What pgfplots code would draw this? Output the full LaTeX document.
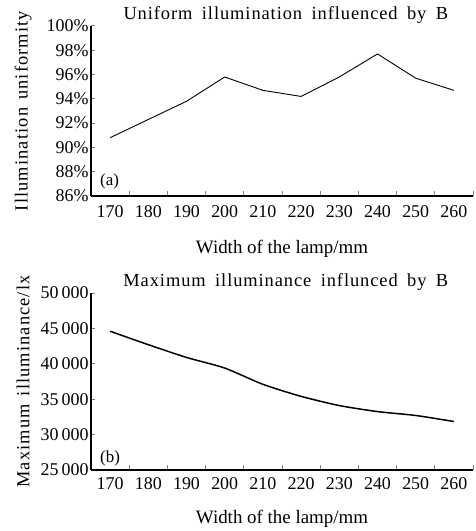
\documentclass[border=0pt]{standalone}
\usepackage{fontspec}
\setmainfont{Liberation Serif}
\newfontfamily\spaced[LetterSpace=6, WordSpace=1.4]{Liberation Serif}
\newfontfamily\wide[LetterSpace=5, WordSpace=1.7]{Liberation Serif}
\usepackage{pgfplots}
\pgfplotsset{compat=1.18}

\pgfplotsset{
  panel/.style={
    scale only axis, width=382bp,
    axis lines=left, axis line style={-, line width=1.1pt},
    xmin=0.5, xmax=10.5,
    xtick={1,...,10},
    xticklabels={170,180,190,200,210,220,230,240,250,260},
    major x tick style={draw=none},
    minor xtick={0.5,1.5,...,10.5},
    minor x tick style={line width=1pt},
    minor tick length=4.5bp,
    xtick align=inside, ytick align=inside,
    major tick length=3.5bp,
    y tick style={line width=1pt},
    scaled y ticks=false,
    tick label style={font=\fontsize{18}{20}\selectfont},
    yticklabel style={xshift=1bp},
    xlabel={Width of the lamp/mm},
    xlabel style={font=\fontsize{19}{21}\selectfont, at={(axis description cs:0.5,0)}, anchor=center},
    ylabel style={font=\fontsize{18.5}{20}\selectfont\spaced, at={(axis description cs:-0.178,0.5)}, anchor=center},
    title style={font=\fontsize{18.5}{20}\selectfont\wide, at={(axis description cs:0.51,1)}, anchor=base, yshift=0.5bp},
  }
}

\begin{document}
\begin{tikzpicture}
\path[use as bounding box] (0bp,0bp) rectangle (476bp,531bp);

% (a) uniformity
\begin{axis}[panel, at={(91bp,335bp)}, anchor=south west, height=170bp,
  ymin=86, ymax=100, ytick={86,88,...,100},
  yticklabels={86\%,88\%,90\%,92\%,94\%,96\%,98\%,100\%},
  xticklabel style={yshift=-6bp},
  xlabel style={yshift=-53bp},
  ylabel={Illumination uniformity},
  title={Uniform illumination influenced by B}]
\addplot[black, line width=0.9pt] coordinates {
  (1,90.8) (2,92.3) (3,93.8) (4,95.8) (5,94.7)
  (6,94.2) (7,95.8) (8,97.7) (9,95.7) (10,94.7)};
\node[anchor=base west, font=\fontsize{17}{19}\selectfont, inner sep=0pt] at (axis cs:0.5,86) [xshift=9bp, yshift=10bp] {(a)};
\end{axis}

% (b) maximum illuminance
\begin{axis}[panel, at={(91bp,61bp)}, anchor=south west, height=177bp,
  ymin=25000, ymax=50000, ytick={25000,30000,...,50000},
  yticklabels={25\,000,30\,000,35\,000,40\,000,45\,000,50\,000},
  xticklabel style={yshift=-4bp},
  xlabel style={yshift=-49bp},
  ylabel={Maximum illuminance/lx},
  title={Maximum illuminance influnced by B}]
\addplot[black, line width=1.5pt, smooth, tension=0.4] coordinates {
  (1,44600) (2,42700) (3,40900) (4,39400) (5,37100)
  (6,35400) (7,34100) (8,33250) (9,32700) (10,31850)};
\node[anchor=base west, font=\fontsize{17}{19}\selectfont, inner sep=0pt] at (axis cs:0.5,25000) [xshift=9bp, yshift=8bp] {(b)};
\end{axis}
\end{tikzpicture}
\end{document}
